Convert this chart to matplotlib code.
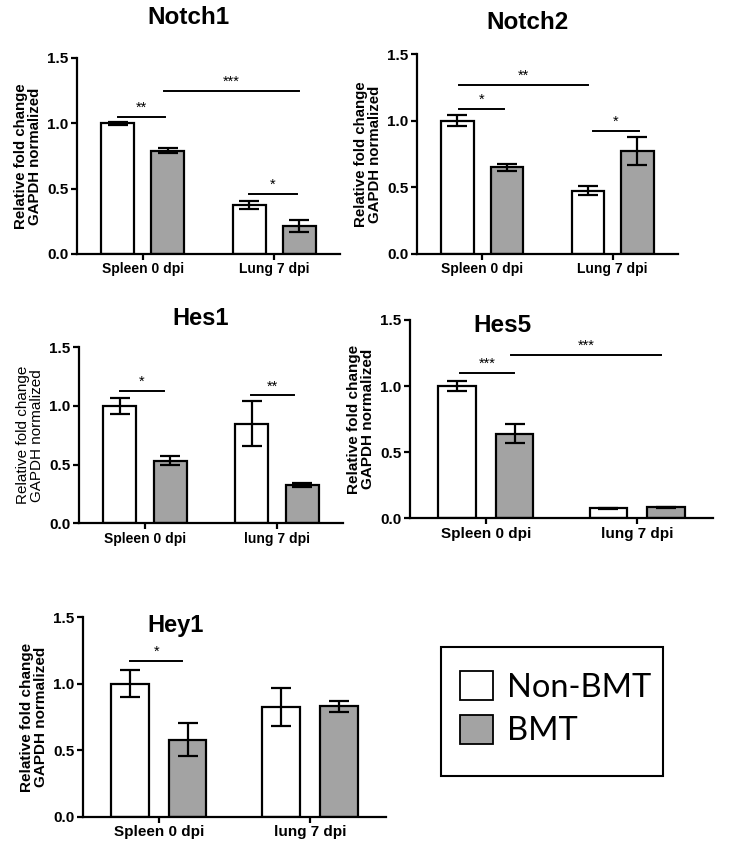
import matplotlib
matplotlib.use("Agg")
import matplotlib.pyplot as plt
from matplotlib.patches import Patch, Rectangle

plt.rcParams['font.family'] = ['Liberation Sans', 'DejaVu Sans']

# ---------------- data ----------------
series = ['Non-BMT', 'BMT']

notch1_groups = ['Spleen 0 dpi', 'Lung 7 dpi']
notch1_non = [1.00, 0.375]
notch1_non_err = [0.01, 0.03]
notch1_bmt = [0.79, 0.214]
notch1_bmt_err = [0.02, 0.045]
notch1_sig = [(-0.19, 0.17, 1.05, '**'), (0.16, 1.19, 1.25, '***'), (0.81, 1.17, 0.46, '*')]

notch2_groups = ['Spleen 0 dpi', 'Lung 7 dpi']
notch2_non = [1.00, 0.475]
notch2_non_err = [0.04, 0.035]
notch2_bmt = [0.65, 0.775]
notch2_bmt_err = [0.025, 0.105]
notch2_sig = [(-0.18, 0.81, 1.27, '**'), (-0.18, 0.17, 1.09, '*'), (0.85, 1.20, 0.925, '*')]

hes1_groups = ['Spleen 0 dpi', 'lung 7 dpi']
hes1_non = [1.00, 0.85]
hes1_non_err = [0.065, 0.19]
hes1_bmt = [0.535, 0.325]
hes1_bmt_err = [0.035, 0.02]
hes1_sig = [(-0.19, 0.145, 1.13, '*'), (0.80, 1.13, 1.09, '**')]

hes5_groups = ['Spleen 0 dpi', 'lung 7 dpi']
hes5_non = [1.00, 0.075]
hes5_non_err = [0.04, 0.003]
hes5_bmt = [0.64, 0.082]
hes5_bmt_err = [0.073, 0.003]
hes5_sig = [(-0.17, 0.185, 1.10, '***'), (0.17, 1.16, 1.233, '***')]

hey1_groups = ['Spleen 0 dpi', 'lung 7 dpi']
hey1_non = [1.00, 0.825]
hey1_non_err = [0.10, 0.145]
hey1_bmt = [0.58, 0.83]
hey1_bmt_err = [0.125, 0.04]
hey1_sig = [(-0.19, 0.156, 1.174, '*')]

yticks = [0.0, 0.5, 1.0, 1.5]
ylabel = 'Relative fold change\nGAPDH normalized'

# ---------------- style ----------------
GRAY = '#a3a3a3'
W = 0.25
OFF = 0.19
LW = 1.6

fig = plt.figure(figsize=(7.3, 8.56), dpi=100)


def panel(rect, title, tpos, tsize, groups, non, non_err, bmt, bmt_err, sig,
          ylab_weight='bold', ylab_size=10.8, xt_size=10, yt_size=11):
    ax = fig.add_axes(rect)
    xs = list(range(len(groups)))
    ax.bar([x - OFF for x in xs], non, W, yerr=non_err, color='white',
           edgecolor='black', linewidth=LW, zorder=2,
           error_kw=dict(elinewidth=LW, capsize=7, capthick=LW, ecolor='black'))
    ax.bar([x + OFF for x in xs], bmt, W, yerr=bmt_err, color=GRAY,
           edgecolor='black', linewidth=LW, zorder=2,
           error_kw=dict(elinewidth=LW, capsize=7, capthick=LW, ecolor='black'))
    ax.set_xlim(-0.5, 1.5)
    ax.set_ylim(0, 1.5)
    ax.set_xticks(xs)
    ax.set_xticklabels(groups, fontsize=xt_size, fontweight='bold')
    ax.set_yticks(yticks)
    ax.set_yticklabels([f'{t:.1f}' for t in yticks], fontsize=yt_size, fontweight='bold')
    ax.tick_params(axis='both', direction='out', length=4, width=LW, pad=2)
    for s in ['top', 'right']:
        ax.spines[s].set_visible(False)
    for s in ['left', 'bottom']:
        ax.spines[s].set_linewidth(LW)
    ax.spines['bottom'].set_zorder(3)
    ax.set_ylabel(ylabel, fontsize=ylab_size, fontweight=ylab_weight, linespacing=1.0, labelpad=4)
    for x1, x2, y, txt in sig:
        ax.plot([x1, x2], [y, y], color='black', lw=1.4, clip_on=False)
        ax.annotate(txt, xy=((x1 + x2) / 2, y), xytext=(0, 1.5), textcoords='offset points',
                    ha='center', va='bottom', fontsize=10.5, annotation_clip=False)
    ax.text(tpos[0], tpos[1], title, transform=ax.transAxes, ha='center', va='center',
            fontsize=tsize, fontweight='bold')
    return ax


panel([0.1055, 0.7033, 0.3603, 0.229], 'Notch1', (0.422, 1.204), 17.5,
      notch1_groups, notch1_non, notch1_non_err, notch1_bmt, notch1_bmt_err, notch1_sig)
panel([0.5712, 0.7033, 0.3575, 0.2336], 'Notch2', (0.425, 1.16), 17.5,
      notch2_groups, notch2_non, notch2_non_err, notch2_bmt, notch2_bmt_err, notch2_sig)
panel([0.1082, 0.3887, 0.3616, 0.2056], 'Hes1', (0.462, 1.166), 17,
      hes1_groups, hes1_non, hes1_non_err, hes1_bmt, hes1_bmt_err, hes1_sig,
      ylab_weight='normal', ylab_size=11)
panel([0.5616, 0.3945, 0.4151, 0.2317], 'Hes5', (0.306, 0.972), 17.5,
      hes5_groups, hes5_non, hes5_non_err, hes5_bmt, hes5_bmt_err, hes5_sig,
      xt_size=11, yt_size=11, ylab_size=11)
panel([0.1137, 0.0459, 0.415, 0.233], 'Hey1', (0.306, 0.961), 17,
      hey1_groups, hey1_non, hey1_non_err, hey1_bmt, hey1_bmt_err, hey1_sig,
      xt_size=11, yt_size=11, ylab_size=11)

# legend (frame drawn separately)
fig.add_artist(Rectangle((440.7 / 730, 1 - 776 / 856), 222 / 730, 129.3 / 856,
                         transform=fig.transFigure, facecolor='white',
                         edgecolor='black', linewidth=1.5, zorder=1))
handles = [Patch(facecolor='white', edgecolor='black', linewidth=1.3),
           Patch(facecolor=GRAY, edgecolor='black', linewidth=1.3)]
leg = fig.legend(handles, series, loc='upper left',
                 bbox_to_anchor=(460 / 730, 1 - 671 / 856),
                 prop={'family': ['Lato', 'DejaVu Sans'], 'size': 23.5},
                 frameon=False, handlelength=1.0, handleheight=1.0,
                 handletextpad=0.45, borderpad=0, labelspacing=0.36,
                 borderaxespad=0)
leg.set_zorder(2)

fig.savefig('out.png', dpi=100)
